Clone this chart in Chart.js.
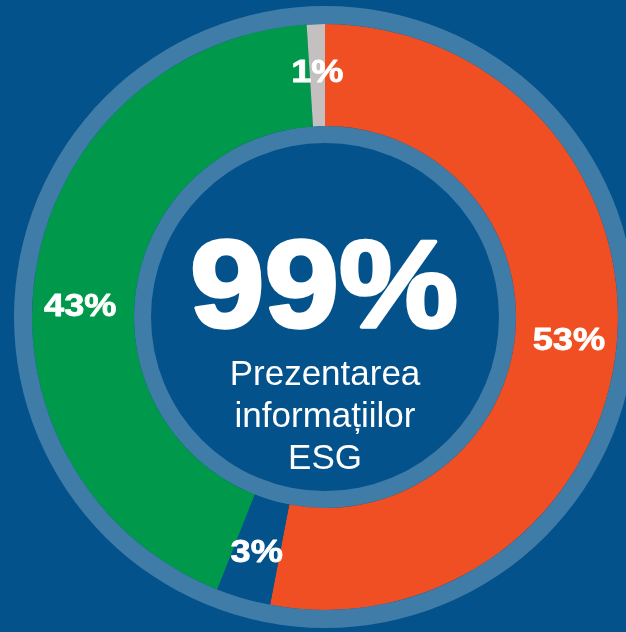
<!DOCTYPE html>
<html>
<head>
<meta charset="utf-8">
<script src="https://cdn.jsdelivr.net/npm/chart.js@4/dist/chart.umd.min.js"></script>
<style>
  html, body { margin: 0; padding: 0; background: #03528b; overflow: hidden; width: 626px; height: 632px; }
  canvas { display: block; }
</style>
</head>
<body>
<canvas id="chartEsg" width="650" height="634"></canvas>
<script>
// data
const categories = ['Da', 'Nu', 'Parțial', 'N/A'];
const shares = [53, 3, 43, 1];
const shareLabels = ['53%', '3%', '43%', '1%'];
const centerValue = '99%';
const centerLines = ['Prezentarea', 'informațiilor', 'ESG'];

const BG = '#03528b';
const RING = '#3f7ca8';
const sliceColors = ['#f04e23', BG, '#00994c', '#c4c0c0'];

const esgLabels = {
  id: 'esgLabels',
  afterDatasetsDraw(chart, args, opts) {
    const ctx = chart.ctx;
    const meta = chart.getDatasetMeta(1);
    ctx.save();
    ctx.fillStyle = '#ffffff';
    ctx.strokeStyle = '#ffffff';
    ctx.lineJoin = 'round';
    ctx.textAlign = 'center';
    ctx.textBaseline = 'middle';
    ctx.font = 'bold 32px "Liberation Sans", Arial, sans-serif';
    ctx.lineWidth = 0.8;
    meta.data.forEach((arc, i) => {
      const p = arc.getProps(['x', 'y', 'startAngle', 'endAngle', 'innerRadius', 'outerRadius'], true);
      const a = (p.startAngle + p.endAngle) / 2 + (opts.nudgeDeg[i] || 0) * Math.PI / 180;
      const r = (p.innerRadius + p.outerRadius) / 2 + 3;
      ctx.save();
      ctx.translate(p.x + Math.cos(a) * r, p.y + Math.sin(a) * r + 1);
      ctx.scale(1.13, 1);
      ctx.fillText(shareLabels[i], 0, 0);
      ctx.strokeText(shareLabels[i], 0, 0);
      ctx.restore();
    });

    // center text
    const cx = meta.data[0].x;
    ctx.textBaseline = 'alphabetic';
    ctx.save();
    ctx.translate(cx - 1, 327);
    ctx.scale(1.08, 1);
    ctx.font = 'bold 124px "Liberation Sans", Arial, sans-serif';
    ctx.lineWidth = 3.5;
    ctx.fillText(centerValue, 0, 0);
    ctx.strokeText(centerValue, 0, 0);
    ctx.restore();

    ctx.font = '35px "Liberation Sans", Arial, sans-serif';
    centerLines.forEach((t, i) => {
      ctx.fillText(t, cx, 385 + i * 42);
    });
    ctx.restore();
  }
};

new Chart(document.getElementById('chartEsg'), {
  type: 'doughnut',
  data: {
    labels: categories,
    datasets: [
      { data: [1], backgroundColor: [RING], borderWidth: 0, weight: 18 },
      { data: shares, backgroundColor: sliceColors, borderWidth: 0, weight: 102 },
      { data: [1], backgroundColor: [RING], borderWidth: 0, weight: 17 }
    ]
  },
  options: {
    responsive: false,
    animation: false,
    cutout: 174,
    layout: { padding: 6 },
    plugins: {
      legend: { display: false },
      tooltip: { enabled: false },
      esgLabels: { nudgeDeg: [0, 0, -6.5, 0] }
    }
  },
  plugins: [esgLabels]
});
</script>
</body>
</html>
